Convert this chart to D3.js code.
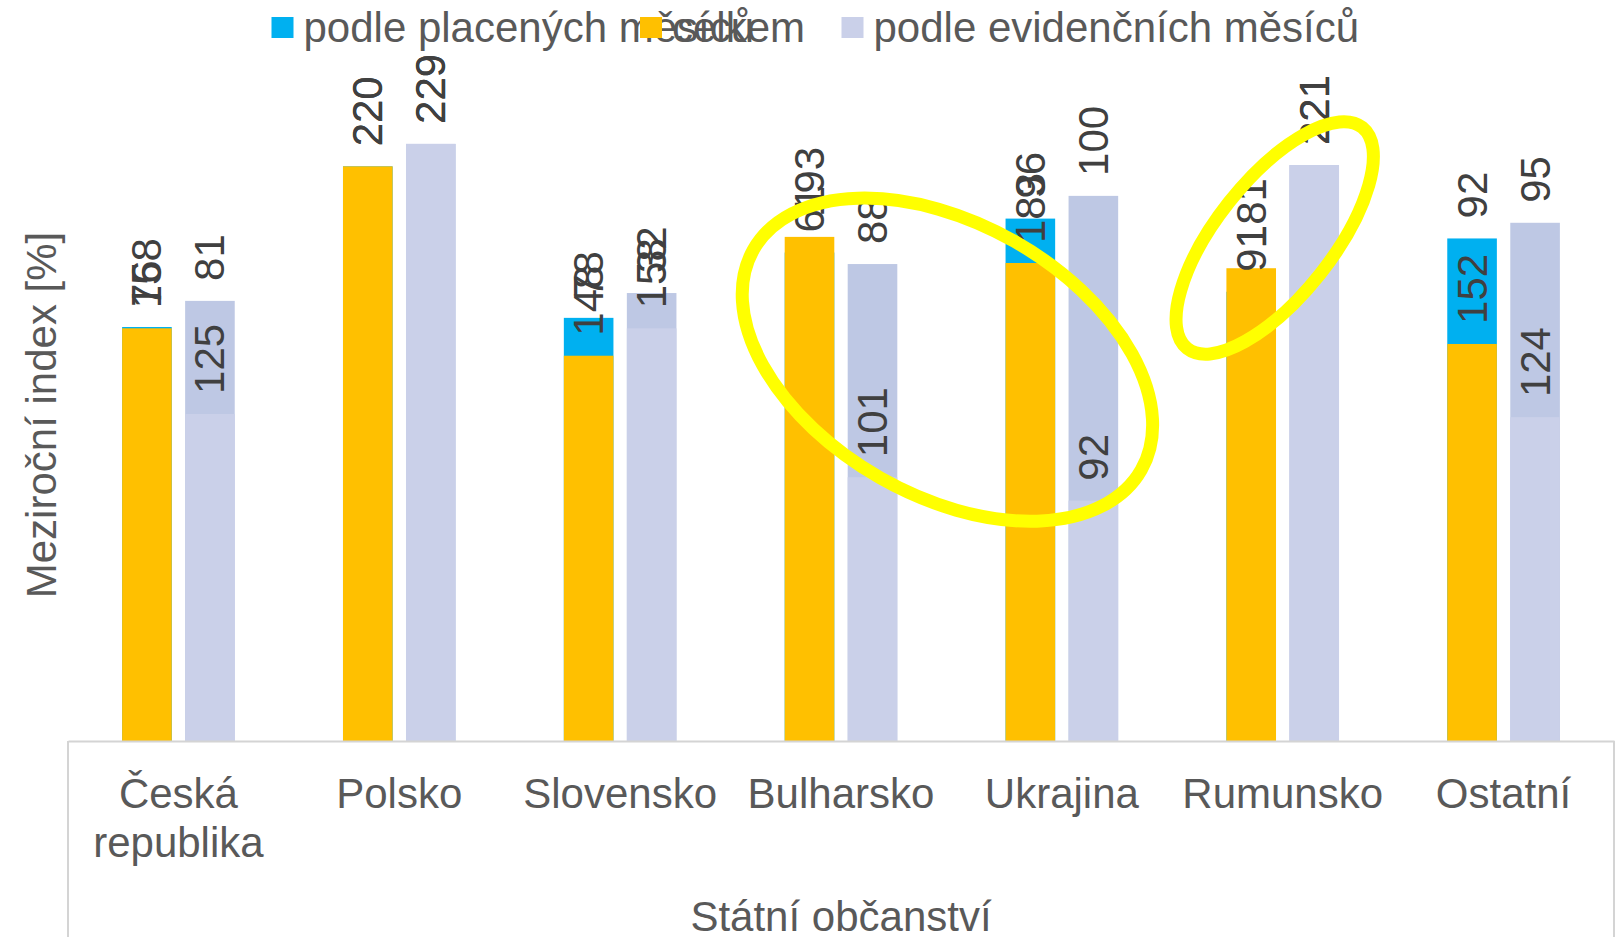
<!DOCTYPE html>
<html>
<head>
<meta charset="utf-8">
<script src="https://cdn.jsdelivr.net/npm/d3@7"></script>
<style>
    html, body { margin:0; padding:0; background:#fff; }
    svg { display:block; font-family:"Liberation Sans", Arial, sans-serif; }
</style>
</head>
<body>
<div id="chart"></div>
<script>
// kategorie (statni obcanstvi), druhy radek popisku oddelen \n
var categories = ['Česká\nrepublika', 'Polsko', 'Slovensko', 'Bulharsko', 'Ukrajina', 'Rumunsko', 'Ostatní'];

// podle placenych mesicu (modra, za oranzovou)
var placeneValues = [158.5, 220, 162, 187, 200, 172, 192.4];
var placeneLabels = ['76', '220', '78', '61', '96', '91', '92'];

// celkem (oranzova)
var celkemValues = [158, 220, 147.5, 193, 183, 181, 152];
var celkemLabels = ['158', '220', '148', '193', '183', '181', '152'];

// tmavsi fialova rada (za svetlou)
var evidTmavaValues = [168.5, 228.6, 171.5, 182.6, 208.7, 220.5, 198.4];
var evidTmavaLabels = ['81', '229', '32', '88', '100', '221', '95'];

// podle evidencnich mesicu (svetla fialova)
var evidValues = [125.2, 228.6, 158, 101, 92, 220.5, 124];
var evidLabels = ['125', '229', '158', '101', '92', '221', '124'];

var legendNames = ['podle placených měsíců', 'celkem', 'podle evidenčních měsíců'];

// zlute elipsy - stred mezi kategoriemi / u kategorie, vyska v jednotkach osy y
var ellipses = [
    {from:'Bulharsko', to:'Ukrajina', value:146, rx:223, ry:136, angle:29.6},
    {from:'Rumunsko', to:'Rumunsko', value:192.6, rx:141, ry:58, angle:-51.6}
];

var yDomain = [0, 250];

var width = 1619, height = 937;
var margin = {left:68, right:5, bottom:196};
var baseY = height - margin.bottom;
var fontSize = 42;
var colors = {
    placene:'#00B0F0',
    celkem:'#FFC000',
    evidTmava:'#BEC8E4',
    evid:'#CAD0E9',
    label:'#404040',
    text:'#595959',
    axis:'#D4D4D4'
};

var svg = d3.select('#chart').append('svg')
    .attr('width', width)
    .attr('height', height);

var x = d3.scaleBand().domain(categories).range([margin.left, width - margin.right]).padding(0);
var xInner = d3.scaleBand().domain(['p', 'e']).range([0, x.bandwidth()])
    .paddingInner(0.2127).paddingOuter(0.859);
var y = d3.scaleLinear().domain(yDomain).range([baseY, baseY - 250 * 2.612]);

//sloupce
function drawBars(values, slot, color){
    svg.append('g').selectAll('rect')
        .data(values)
        .enter().append('rect')
        .attr('x', function(d, i){ return x(categories[i]) + xInner(slot); })
        .attr('y', function(d){ return y(d); })
        .attr('width', xInner.bandwidth())
        .attr('height', function(d){ return y(0) - y(d); })
        .style('fill', color);
}
drawBars(placeneValues, 'p', colors.placene);
drawBars(celkemValues, 'p', colors.celkem);
drawBars(evidTmavaValues, 'e', colors.evidTmava);
drawBars(evidValues, 'e', colors.evid);

//popisky dat - svisle, nad koncem sloupce
function drawLabels(values, labels, slot){
    svg.append('g').selectAll('text')
        .data(values)
        .enter().append('text')
        .attr('transform', function(d, i){
            var cx = x(categories[i]) + xInner(slot) + xInner.bandwidth() / 2;
            return 'translate(' + cx + ',' + (y(d) - 20) + ') rotate(-90)';
        })
        .attr('text-anchor', 'start')
        .attr('dominant-baseline', 'central')
        .style('font-size', fontSize + 'px')
        .style('fill', colors.label)
        .text(function(d, i){ return labels[i]; });
}
drawLabels(placeneValues, placeneLabels, 'p');
drawLabels(celkemValues, celkemLabels, 'p');
drawLabels(evidTmavaValues, evidTmavaLabels, 'e');
drawLabels(evidValues, evidLabels, 'e');

//osa x a ramecek pod ni
var axisX = d3.axisBottom(x).tickSize(0).tickFormat('');
svg.append('g')
    .attr('transform', 'translate(0,' + baseY + ')')
    .call(axisX)
    .call(function(g){ g.select('.domain').attr('stroke', colors.axis).attr('stroke-width', 2); });

svg.append('g').selectAll('line')
    .data(x.range())
    .enter().append('line')
    .attr('x1', function(d){ return d; })
    .attr('x2', function(d){ return d; })
    .attr('y1', baseY)
    .attr('y2', height)
    .attr('stroke', colors.axis)
    .attr('stroke-width', 2);

// popisky kategorii
var $cats = svg.append('g').selectAll('text')
    .data(categories)
    .enter().append('text')
    .attr('x', function(d){ return x(d) + x.bandwidth() / 2; })
    .attr('y', baseY + 67)
    .attr('text-anchor', 'middle')
    .style('font-size', fontSize + 'px')
    .style('fill', colors.text);
$cats.each(function(d){
    var lines = d.split('\n');
    var $t = d3.select(this);
    for(var i=0; i<lines.length; i++){
        $t.append('tspan')
            .attr('x', x(d) + x.bandwidth() / 2)
            .attr('dy', i === 0 ? 0 : 49)
            .text(lines[i]);
    }
});

// nazev osy x
svg.append('text')
    .attr('x', (x.range()[0] + x.range()[1]) / 2)
    .attr('y', 931)
    .attr('text-anchor', 'middle')
    .style('font-size', fontSize + 'px')
    .style('fill', colors.text)
    .text('Státní občanství');

// nazev osy y
svg.append('text')
    .attr('transform', 'translate(41,415) rotate(-90)')
    .attr('text-anchor', 'middle')
    .attr('dominant-baseline', 'central')
    .style('font-size', fontSize + 'px')
    .style('fill', colors.text)
    .text('Meziroční index [%]');

//legenda
var legendX = [271.5, 640, 841.5];
var legendColors = [colors.placene, colors.celkem, colors.evid];
var $legend = svg.append('g');
for(var i=0; i<legendNames.length; i++){
    var $item = $legend.append('g').attr('transform', 'translate(' + legendX[i] + ',0)');
    $item.append('text')
        .attr('x', 32)
        .attr('y', 42)
        .style('font-size', fontSize + 'px')
        .style('fill', colors.text)
        .text(legendNames[i]);
    $item.append('rect')
        .attr('x', 0)
        .attr('y', 17)
        .attr('width', 22)
        .attr('height', 21)
        .style('fill', legendColors[i]);
}

// zlute elipsy
svg.append('g').selectAll('ellipse')
    .data(ellipses)
    .enter().append('ellipse')
    .attr('transform', function(d){
        var cx = (x(d.from) + x(d.to)) / 2 + x.bandwidth() / 2 - (d.from === d.to ? 8 : 4);
        return 'translate(' + cx + ',' + y(d.value) + ') rotate(' + d.angle + ')';
    })
    .attr('rx', function(d){ return d.rx; })
    .attr('ry', function(d){ return d.ry; })
    .style('fill', 'none')
    .style('stroke', '#FFFF00')
    .style('stroke-width', 13);
</script>
</body>
</html>
